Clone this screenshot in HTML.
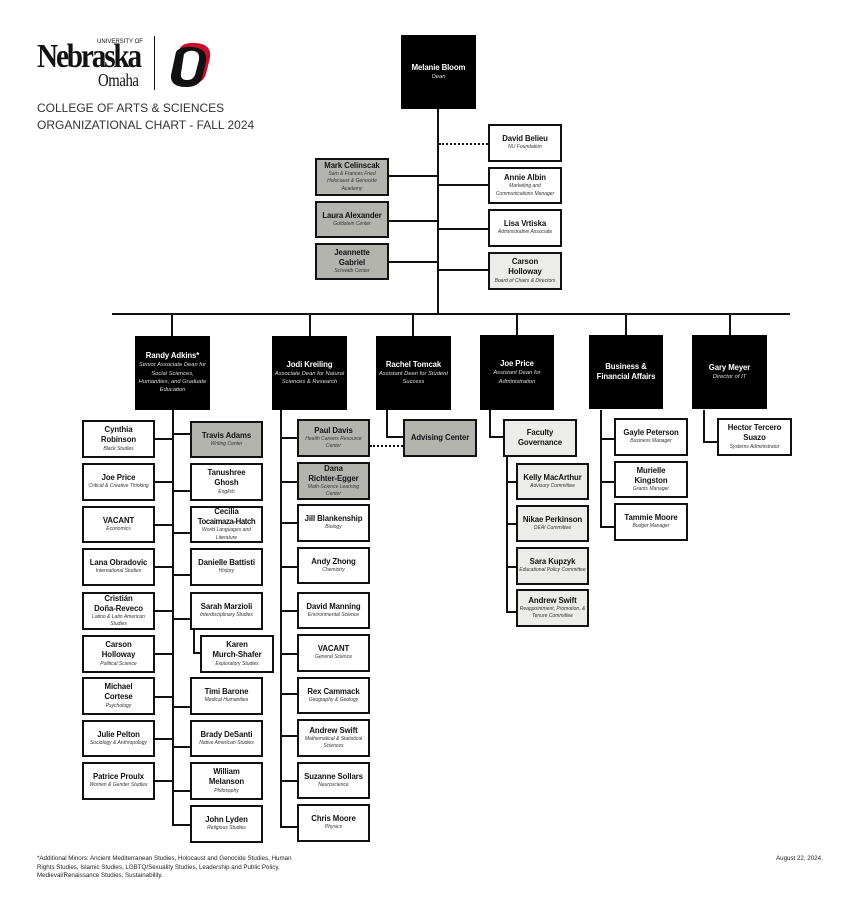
<!DOCTYPE html>
<html><head><meta charset="utf-8"><style>
body{margin:0;width:864px;height:900px;background:#fff;position:relative;overflow:hidden;font-family:"Liberation Sans",sans-serif;color:#111}
.b{position:absolute;box-sizing:border-box;border:2px solid #111;background:#fff;display:flex;flex-direction:column;justify-content:center;align-items:center;text-align:center;padding:0 1px}
.g{background:#b4b4af}.l{background:#ececea}
.k{background:#000;border:none;color:#fff}
.n{font-weight:bold;font-size:7.8px;line-height:1.3;letter-spacing:-0.1px}
.s{font-style:italic;font-size:5px;line-height:1.45;color:#333}
.k .s{color:#ddd;font-size:5.8px}
.k .n{font-size:7.8px}
.h,.v{position:absolute;background:#111}
.h{height:2px}.v{width:2px}
.d{position:absolute;height:0;border-top:2px dotted #111}
</style></head><body>
<!-- logo -->
<div style="position:absolute;left:37px;top:36px;width:110px;height:60px">
<div style="position:absolute;left:60px;top:3px;font:6px 'Liberation Sans'">UNIVERSITY OF</div>
<div style="position:absolute;left:0;top:2px;font:bold 34px 'Liberation Serif';letter-spacing:-2.5px;transform:scaleX(0.86);transform-origin:left">Nebraska</div>
<div style="position:absolute;left:61px;top:34px;font:18px 'Liberation Serif';transform:scaleX(0.82);transform-origin:left;letter-spacing:-0.5px">Omaha</div>
</div>
<div class="v" style="left:154px;top:36px;height:54px;width:1px"></div>
<svg style="position:absolute;left:166px;top:40px" width="52" height="48" viewBox="0 0 52 48">
<path d="M14 8 Q18 2 30 3 Q46 4 44 18 L40 34 Q37 44 24 44 Q8 44 9 32 Z" fill="#c8102e"/>
<path d="M10 12 Q14 6 26 7 Q42 8 40 22 L36 38 Q33 47 20 47 Q4 47 5 35 Z" fill="#111"/>
<path d="M18 14 Q22 10 28 11 Q34 12 33 20 L29 35 Q27 40 21 40 Q14 40 15 33 Z" fill="#fff"/>
</svg>
<div style="position:absolute;left:37px;top:100px;font-size:12px;line-height:17px;color:#333">COLLEGE OF ARTS &amp; SCIENCES<br>ORGANIZATIONAL CHART - FALL 2024</div>

<!-- lines -->
<div class="v" style="left:437px;top:109px;height:206px"></div>
<div class="h" style="left:112px;top:313px;width:678px"></div>
<div class="v" style="left:171px;top:313px;height:23px"></div>
<div class="v" style="left:309px;top:313px;height:23px"></div>
<div class="v" style="left:412px;top:313px;height:23px"></div>
<div class="v" style="left:516px;top:313px;height:23px"></div>
<div class="v" style="left:625px;top:313px;height:23px"></div>
<div class="v" style="left:729px;top:313px;height:23px"></div>
<div class="d" style="left:439px;top:143px;width:49px"></div>
<div class="h" style="left:439px;top:184px;width:49px"></div>
<div class="h" style="left:439px;top:228px;width:49px"></div>
<div class="h" style="left:439px;top:269px;width:49px"></div>
<div class="h" style="left:389px;top:175px;width:49px"></div>
<div class="h" style="left:389px;top:220px;width:49px"></div>
<div class="h" style="left:389px;top:261px;width:49px"></div>

<div class="v" style="left:172px;top:410px;height:416px"></div>
<div class="h" style="left:155px;top:438px;width:18px"></div>
<div class="h" style="left:155px;top:481px;width:18px"></div>
<div class="h" style="left:155px;top:524px;width:18px"></div>
<div class="h" style="left:155px;top:566px;width:18px"></div>
<div class="h" style="left:155px;top:610px;width:18px"></div>
<div class="h" style="left:155px;top:653px;width:18px"></div>
<div class="h" style="left:155px;top:696px;width:18px"></div>
<div class="h" style="left:155px;top:738px;width:18px"></div>
<div class="h" style="left:155px;top:780px;width:18px"></div>
<div class="h" style="left:172px;top:433px;width:18px"></div>
<div class="h" style="left:172px;top:490px;width:18px"></div>
<div class="h" style="left:172px;top:532px;width:18px"></div>
<div class="h" style="left:172px;top:574px;width:18px"></div>
<div class="h" style="left:172px;top:618px;width:18px"></div>
<div class="h" style="left:172px;top:706px;width:18px"></div>
<div class="h" style="left:172px;top:746px;width:18px"></div>
<div class="h" style="left:172px;top:790px;width:18px"></div>
<div class="h" style="left:172px;top:824px;width:18px"></div>
<div class="v" style="left:193px;top:630px;height:24px"></div>
<div class="h" style="left:193px;top:652px;width:8px"></div>

<div class="v" style="left:280px;top:410px;height:418px"></div>
<div class="h" style="left:280px;top:437px;width:17px"></div>
<div class="h" style="left:280px;top:481px;width:17px"></div>
<div class="h" style="left:280px;top:522px;width:17px"></div>
<div class="h" style="left:280px;top:566px;width:17px"></div>
<div class="h" style="left:280px;top:610px;width:17px"></div>
<div class="h" style="left:280px;top:653px;width:17px"></div>
<div class="h" style="left:280px;top:693px;width:17px"></div>
<div class="h" style="left:280px;top:735px;width:17px"></div>
<div class="h" style="left:280px;top:780px;width:17px"></div>
<div class="h" style="left:280px;top:826px;width:17px"></div>
<div class="d" style="left:370px;top:445px;width:33px"></div>

<div class="v" style="left:386px;top:410px;height:28px"></div>
<div class="h" style="left:386px;top:436px;width:17px"></div>
<div class="v" style="left:489px;top:410px;height:28px"></div>
<div class="h" style="left:489px;top:436px;width:14px"></div>
<div class="v" style="left:506px;top:457px;height:156px"></div>
<div class="h" style="left:506px;top:481px;width:10px"></div>
<div class="h" style="left:506px;top:523px;width:10px"></div>
<div class="h" style="left:506px;top:566px;width:10px"></div>
<div class="h" style="left:506px;top:611px;width:10px"></div>
<div class="v" style="left:600px;top:410px;height:118px"></div>
<div class="h" style="left:600px;top:438px;width:14px"></div>
<div class="h" style="left:600px;top:481px;width:14px"></div>
<div class="h" style="left:600px;top:526px;width:14px"></div>
<div class="v" style="left:703px;top:410px;height:33px"></div>
<div class="h" style="left:703px;top:441px;width:14px"></div>

<!-- top -->
<div class="b k" style="left:401px;top:35px;width:75px;height:74px"><div class="n">Melanie Bloom</div><div class="s">Dean</div></div>
<div class="b" style="left:488px;top:124px;width:74px;height:38px"><div class="n">David Belieu</div><div class="s">NU Foundation</div></div>
<div class="b" style="left:488px;top:167px;width:74px;height:37px"><div class="n">Annie Albin</div><div class="s">Marketing and Communications Manager</div></div>
<div class="b" style="left:488px;top:209px;width:74px;height:38px"><div class="n">Lisa Vrtiska</div><div class="s">Administrative Associate</div></div>
<div class="b l" style="left:488px;top:252px;width:74px;height:38px"><div class="n">Carson<br>Holloway</div><div class="s">Board of Chairs &amp; Directors</div></div>
<div class="b g" style="left:315px;top:158px;width:74px;height:38px"><div class="n">Mark Celinscak</div><div class="s">Sam &amp; Frances Fried Holocaust &amp; Genocide Academy</div></div>
<div class="b g" style="left:315px;top:201px;width:74px;height:37px"><div class="n">Laura Alexander</div><div class="s">Goldstein Center</div></div>
<div class="b g" style="left:315px;top:243px;width:74px;height:37px"><div class="n">Jeannette<br>Gabriel</div><div class="s">Schwalb Center</div></div>

<!-- level 2 -->
<div class="b k" style="left:135px;top:336px;width:75px;height:74px"><div class="n">Randy Adkins*</div><div class="s">Senior Associate Dean for Social Sciences, Humanities, and Graduate Education</div></div>
<div class="b k" style="left:272px;top:336px;width:75px;height:74px"><div class="n">Jodi Kreiling</div><div class="s">Associate Dean for Natural Sciences &amp; Research</div></div>
<div class="b k" style="left:376px;top:336px;width:75px;height:74px"><div class="n">Rachel Tomcak</div><div class="s">Assistant Dean for Student Success</div></div>
<div class="b k" style="left:480px;top:335px;width:74px;height:75px"><div class="n">Joe Price</div><div class="s">Assistant Dean for Administration</div></div>
<div class="b k" style="left:589px;top:335px;width:74px;height:74px"><div class="n">Business &amp;<br>Financial Affairs</div></div>
<div class="b k" style="left:692px;top:335px;width:75px;height:74px"><div class="n">Gary Meyer</div><div class="s">Director of IT</div></div>

<!-- Randy left -->
<div class="b" style="left:82px;top:420px;width:73px;height:38px"><div class="n">Cynthia<br>Robinson</div><div class="s">Black Studies</div></div>
<div class="b" style="left:82px;top:463px;width:73px;height:38px"><div class="n">Joe Price</div><div class="s">Critical &amp; Creative Thinking</div></div>
<div class="b" style="left:82px;top:506px;width:73px;height:37px"><div class="n">VACANT</div><div class="s">Economics</div></div>
<div class="b" style="left:82px;top:548px;width:73px;height:38px"><div class="n">Lana Obradovic</div><div class="s">International Studies</div></div>
<div class="b" style="left:82px;top:592px;width:73px;height:38px"><div class="n">Cristián<br>Doña-Reveco</div><div class="s">Latino &amp; Latin American Studies</div></div>
<div class="b" style="left:82px;top:635px;width:73px;height:38px"><div class="n">Carson<br>Holloway</div><div class="s">Political Science</div></div>
<div class="b" style="left:82px;top:677px;width:73px;height:38px"><div class="n">Michael<br>Cortese</div><div class="s">Psychology</div></div>
<div class="b" style="left:82px;top:720px;width:73px;height:37px"><div class="n">Julie Pelton</div><div class="s">Sociology &amp; Anthropology</div></div>
<div class="b" style="left:82px;top:762px;width:73px;height:38px"><div class="n">Patrice Proulx</div><div class="s">Women &amp; Gender Studies</div></div>
<!-- Randy right -->
<div class="b g" style="left:190px;top:421px;width:73px;height:37px"><div class="n">Travis Adams</div><div class="s">Writing Center</div></div>
<div class="b" style="left:190px;top:463px;width:73px;height:38px"><div class="n">Tanushree<br>Ghosh</div><div class="s">English</div></div>
<div class="b" style="left:190px;top:506px;width:73px;height:37px"><div class="n">Cecilia<br><span style="letter-spacing:-0.4px;white-space:nowrap">Tocaimaza-Hatch</span></div><div class="s">World Languages and Literature</div></div>
<div class="b" style="left:190px;top:548px;width:73px;height:38px"><div class="n">Danielle Battisti</div><div class="s">History</div></div>
<div class="b" style="left:190px;top:592px;width:73px;height:38px"><div class="n">Sarah Marzioli</div><div class="s">Interdisciplinary Studies</div></div>
<div class="b" style="left:200px;top:635px;width:74px;height:38px"><div class="n">Karen<br>Murch-Shafer</div><div class="s">Exploratory Studies</div></div>
<div class="b" style="left:190px;top:677px;width:73px;height:38px"><div class="n">Timi Barone</div><div class="s">Medical Humanities</div></div>
<div class="b" style="left:190px;top:720px;width:73px;height:37px"><div class="n">Brady DeSanti</div><div class="s">Native American Studies</div></div>
<div class="b" style="left:190px;top:762px;width:73px;height:38px"><div class="n">William<br>Melanson</div><div class="s">Philosophy</div></div>
<div class="b" style="left:190px;top:805px;width:73px;height:38px"><div class="n">John Lyden</div><div class="s">Religious Studies</div></div>
<!-- Jodi -->
<div class="b g" style="left:297px;top:419px;width:73px;height:38px"><div class="n">Paul Davis</div><div class="s">Health Careers Resource Center</div></div>
<div class="b g" style="left:297px;top:462px;width:73px;height:38px"><div class="n">Dana<br>Richter-Egger</div><div class="s">Math-Science Learning Center</div></div>
<div class="b" style="left:297px;top:504px;width:73px;height:38px"><div class="n">Jill Blankenship</div><div class="s">Biology</div></div>
<div class="b" style="left:297px;top:547px;width:73px;height:37px"><div class="n">Andy Zhong</div><div class="s">Chemistry</div></div>
<div class="b" style="left:297px;top:592px;width:73px;height:37px"><div class="n">David Manning</div><div class="s">Environmental Science</div></div>
<div class="b" style="left:297px;top:634px;width:73px;height:38px"><div class="n">VACANT</div><div class="s">General Science</div></div>
<div class="b" style="left:297px;top:677px;width:73px;height:37px"><div class="n">Rex Cammack</div><div class="s">Geography &amp; Geology</div></div>
<div class="b" style="left:297px;top:719px;width:73px;height:38px"><div class="n">Andrew Swift</div><div class="s">Mathematical &amp; Statistical Sciences</div></div>
<div class="b" style="left:297px;top:762px;width:73px;height:37px"><div class="n">Suzanne Sollars</div><div class="s">Neuroscience</div></div>
<div class="b" style="left:297px;top:804px;width:73px;height:38px"><div class="n">Chris Moore</div><div class="s">Physics</div></div>
<!-- Rachel -->
<div class="b g" style="left:403px;top:419px;width:74px;height:38px"><div class="n">Advising Center</div></div>
<!-- Joe -->
<div class="b l" style="left:503px;top:419px;width:74px;height:38px"><div class="n">Faculty<br>Governance</div></div>
<div class="b l" style="left:516px;top:463px;width:73px;height:37px"><div class="n">Kelly MacArthur</div><div class="s">Advisory Committee</div></div>
<div class="b l" style="left:516px;top:505px;width:73px;height:37px"><div class="n">Nikae Perkinson</div><div class="s">DEAI Committee</div></div>
<div class="b l" style="left:516px;top:547px;width:73px;height:38px"><div class="n">Sara Kupzyk</div><div class="s">Educational Policy Committee</div></div>
<div class="b l" style="left:516px;top:589px;width:73px;height:38px"><div class="n">Andrew Swift</div><div class="s">Reappointment, Promotion, &amp; Tenure Committee</div></div>
<!-- Business -->
<div class="b" style="left:614px;top:418px;width:74px;height:38px"><div class="n">Gayle Peterson</div><div class="s">Business Manager</div></div>
<div class="b" style="left:614px;top:461px;width:74px;height:37px"><div class="n">Murielle<br>Kingston</div><div class="s">Grants Manager</div></div>
<div class="b" style="left:614px;top:503px;width:74px;height:38px"><div class="n">Tammie Moore</div><div class="s">Budget Manager</div></div>
<!-- Gary -->
<div class="b" style="left:717px;top:418px;width:75px;height:38px"><div class="n">Hector Tercero<br>Suazo</div><div class="s">Systems Administrator</div></div>

<div style="position:absolute;left:37px;top:855px;width:272px;font-size:6.2px;line-height:8.5px;color:#222">*Additional Minors: Ancient Mediterranean Studies, Holocaust and Genocide Studies, Human Rights Studies, Islamic Studies, LGBTQ/Sexuality Studies, Leadership and Public Policy, Medieval/Renaissance Studies, Sustainability.</div>
<div style="position:absolute;left:776px;top:855px;font-size:6.2px;color:#222">August 22, 2024.</div>
</body></html>
